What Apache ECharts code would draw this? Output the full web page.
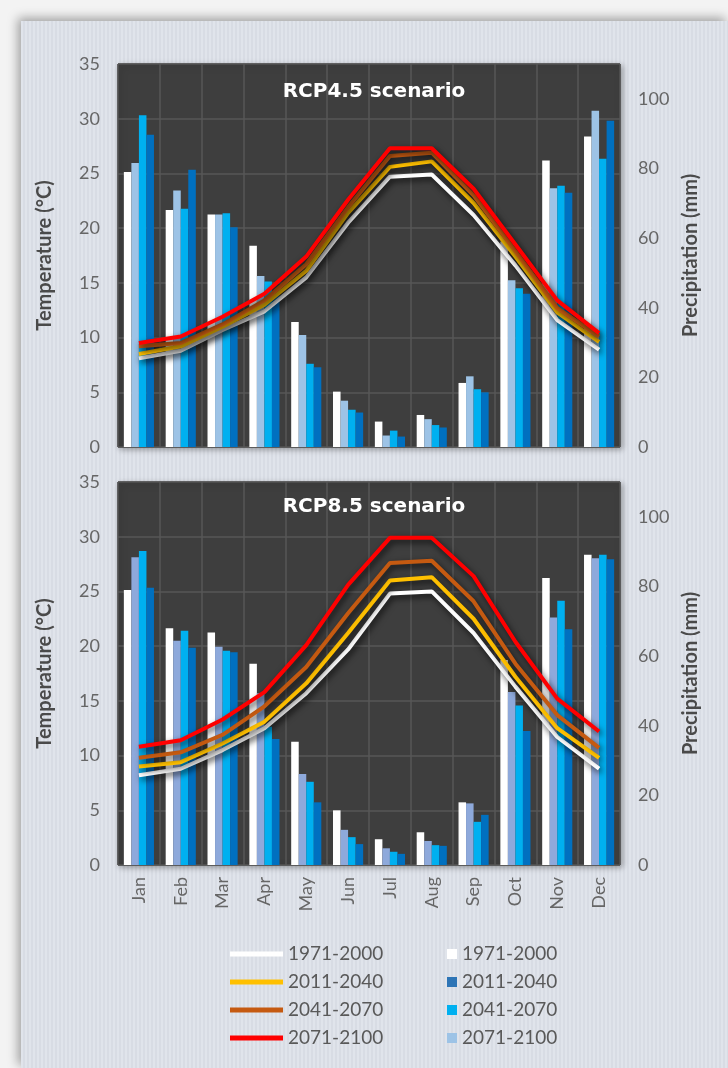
<!DOCTYPE html>
<html>
<head>
<meta charset="utf-8">
<script src="https://cdn.jsdelivr.net/npm/echarts@6/dist/echarts.min.js"></script>
<style>
  html, body { margin: 0; padding: 0; width: 728px; height: 1068px; overflow: hidden; background: #f3f3f3; }
  #panel { position: absolute; left: 21px; top: 21px; width: 707px; height: 1047px;
    background: repeating-linear-gradient(90deg, #e0e4eb 0px, #e0e4eb 2px, #d8dce4 2px, #d8dce4 4px);
    box-shadow: -3px -3px 10px rgba(0,0,0,0.35); }
  #chart { position: absolute; left: 0; top: 0; width: 728px; height: 1068px; }
</style>
</head>
<body>
<div id="panel"></div>
<div id="chart"></div>
<script>
// ---------- DATA ----------
const months = ['Jan','Feb','Mar','Apr','May','Jun','Jul','Aug','Sep','Oct','Nov','Dec'];
const periods = ['1971-2000','2011-2040','2041-2070','2071-2100'];
const tempTicks = [0, 35, 5];      // min, max, interval (°C)
const precipTicks = [0, 110, 20];  // min, max, interval (mm)

// Temperature (°C) - RCP4.5
const t45_1971 = [8.1, 8.8, 10.7, 12.4, 15.5, 20.5, 24.7, 24.9, 21.2, 16.6, 11.6, 8.9];
const t45_2011 = [8.5, 9.2, 11.0, 13.0, 16.1, 21.4, 25.6, 26.1, 22.3, 17.4, 12.3, 9.6];
const t45_2041 = [9.2, 9.5, 11.2, 13.4, 16.7, 21.9, 26.6, 26.9, 23.0, 17.9, 12.7, 10.1];
const t45_2071 = [9.5, 10.1, 11.9, 14.0, 17.4, 22.6, 27.3, 27.3, 23.6, 18.5, 13.4, 10.4];
// Precipitation (mm) - RCP4.5
const p45_1971 = [79.0, 68.1, 66.8, 57.8, 35.9, 15.9, 7.3, 9.2, 18.4, 59.0, 82.3, 89.2];
const p45_2011 = [89.7, 79.6, 63.1, 44.0, 22.9, 9.9, 3.0, 5.6, 15.7, 44.0, 73.0, 93.7];
const p45_2041 = [95.3, 68.4, 67.1, 47.5, 23.9, 10.7, 4.7, 6.3, 16.6, 45.6, 75.0, 82.8];
const p45_2071 = [81.6, 73.7, 66.8, 49.1, 32.2, 13.3, 3.3, 8.0, 20.3, 47.9, 74.3, 96.6];

// Temperature (°C) - RCP8.5
const t85_1971 = [8.2, 8.8, 10.5, 12.5, 15.7, 19.7, 24.8, 25.0, 21.2, 16.3, 11.7, 8.8];
const t85_2011 = [9.0, 9.4, 11.1, 13.1, 16.6, 21.2, 26.0, 26.3, 22.5, 17.2, 12.5, 9.8];
const t85_2041 = [9.8, 10.3, 11.9, 14.5, 18.1, 23.0, 27.6, 27.8, 24.1, 18.4, 13.7, 10.7];
const t85_2071 = [10.8, 11.4, 13.3, 15.8, 20.1, 25.6, 29.9, 29.9, 26.4, 20.4, 15.2, 12.2];
// Precipitation (mm) - RCP8.5
const p85_1971 = [79.0, 68.0, 66.8, 57.8, 35.4, 15.7, 7.4, 9.4, 18.0, 58.9, 82.4, 89.1];
const p85_2011 = [79.6, 62.4, 61.1, 36.2, 18.0, 6.0, 3.2, 5.5, 14.4, 38.5, 67.7, 87.8];
const p85_2041 = [90.2, 67.3, 61.5, 39.7, 23.9, 8.0, 3.8, 5.7, 12.4, 45.8, 75.9, 89.1];
const p85_2071 = [88.4, 64.4, 62.7, 49.3, 26.1, 10.1, 4.8, 6.9, 17.7, 49.7, 71.1, 88.1];

// ---------- STYLE ----------
const FONT = 'Lato, "Open Sans", sans-serif';
const TITLE_FONT = '"DejaVu Sans", Lato, sans-serif';
const lineColors = ['#FFFFFF', '#FFC000', '#C55A11', '#FF0000'];
const barColors45 = { '1971-2000': '#FFFFFF', '2011-2040': '#0070C0', '2041-2070': '#00B0F0', '2071-2100': '#9DC3E6' };
const barColors85 = { '1971-2000': '#FFFFFF', '2011-2040': '#0070C0', '2041-2070': '#00B0F0', '2071-2100': '#8EA9DB' };
const gridLine = '#575757';
const labelColor = '#666666';

const grids = [
  { left: 118, top: 64, width: 502, height: 383 },
  { left: 118, top: 482, width: 502, height: 383 }
].map(g => Object.assign(g, {
  show: true, backgroundColor: '#3E3E3E', borderColor: '#2c2c2c', borderWidth: 1,
  shadowBlur: 6, shadowColor: 'rgba(0,0,0,0.35)', shadowOffsetX: 2, shadowOffsetY: 2
}));

function xAxisFor(i, showLabels) {
  return {
    type: 'category', gridIndex: i, data: months, boundaryGap: true,
    axisLine: { show: false }, axisTick: { show: false },
    splitLine: { show: true, lineStyle: { color: gridLine, width: 1.5 } },
    axisLabel: { show: showLabels, rotate: 90, margin: 12, fontSize: 18, color: labelColor, fontFamily: FONT }
  };
}
function tempAxis(i) {
  return {
    type: 'value', gridIndex: i, position: 'left',
    min: tempTicks[0], max: tempTicks[1], interval: tempTicks[2],
    name: 'Temperature (°C)', nameLocation: 'middle', nameGap: 63, nameRotate: 90,
    nameTextStyle: { fontSize: 20, fontWeight: 'bold', color: '#4a4a4a', fontFamily: FONT },
    axisLine: { show: false }, axisTick: { show: false },
    axisLabel: { margin: 18, fontSize: 18, color: labelColor, fontFamily: FONT },
    splitLine: { show: true, lineStyle: { color: gridLine, width: 1.5 } }
  };
}
function precipAxis(i) {
  return {
    type: 'value', gridIndex: i, position: 'right',
    min: precipTicks[0], max: precipTicks[1], interval: precipTicks[2],
    name: 'Precipitation (mm)', nameLocation: 'middle', nameGap: 58, nameRotate: 90,
    nameTextStyle: { fontSize: 20, fontWeight: 'bold', color: '#4a4a4a', fontFamily: FONT },
    axisLine: { show: false }, axisTick: { show: false },
    axisLabel: { margin: 18, fontSize: 18, color: labelColor, fontFamily: FONT, showMaxLabel: false },
    splitLine: { show: false }
  };
}

function barSeries(gi, name, values, color) {
  return {
    type: 'bar', name: 'Precip ' + name, xAxisIndex: gi, yAxisIndex: gi * 2 + 1,
    data: values, barGap: '0%', barCategoryGap: '28%', z: 2,
    itemStyle: { color: color }
  };
}
function lineSeries(gi, name, values, color) {
  return {
    type: 'line', name: name, xAxisIndex: gi, yAxisIndex: gi * 2,
    data: values, showSymbol: false, symbol: 'none', z: 5, color: color,
    lineStyle: { color: color, width: 4, shadowColor: 'rgba(0,0,0,0.75)', shadowBlur: 6, shadowOffsetX: 2, shadowOffsetY: 3 },
    itemStyle: { color: color }
  };
}

const series = [];
const sets = [
  { p: [p45_1971, p45_2011, p45_2041, p45_2071], t: [t45_1971, t45_2011, t45_2041, t45_2071], c: barColors45 },
  { p: [p85_1971, p85_2011, p85_2041, p85_2071], t: [t85_1971, t85_2011, t85_2041, t85_2071], c: barColors85 }
];
sets.forEach((s, gi) => {
  // bar order within month: 1971-2000, 2071-2100, 2041-2070, 2011-2040
  [0, 3, 2, 1].forEach(k => series.push(barSeries(gi, periods[k], s.p[k], s.c[periods[k]])));
});
sets.forEach((s, gi) => {
  [0, 1, 2, 3].forEach(k => series.push(lineSeries(gi, periods[k], s.t[k], lineColors[k])));
});

const option = {
  backgroundColor: 'transparent',
  animation: false,
  title: [
    { text: 'RCP4.5 scenario', left: 374, top: 82, textAlign: 'center', padding: 0,
      textStyle: { color: '#fff', fontSize: 20, fontWeight: 'bold', fontFamily: TITLE_FONT } },
    { text: 'RCP8.5 scenario', left: 374, top: 497, textAlign: 'center', padding: 0,
      textStyle: { color: '#fff', fontSize: 20, fontWeight: 'bold', fontFamily: TITLE_FONT } }
  ],
  grid: grids,
  xAxis: [xAxisFor(0, false), xAxisFor(1, true)],
  yAxis: [tempAxis(0), precipAxis(0), tempAxis(1), precipAxis(1)],
  legend: [
    { orient: 'vertical', left: 230, top: 944, itemWidth: 53, itemHeight: 5, itemGap: 8,
      icon: 'rect', selectedMode: false, padding: 0,
      data: periods.map(n => ({ name: n })),
      textStyle: { fontSize: 19, color: '#595959', fontFamily: FONT, lineHeight: 20 } },
    { orient: 'vertical', left: 447, top: 944, itemWidth: 10, itemHeight: 10, itemGap: 8,
      icon: 'rect', selectedMode: false, padding: 0,
      data: [
        { name: 'Precip 1971-2000', itemStyle: { color: '#FFFFFF' } },
        { name: 'Precip 2011-2040', itemStyle: { color: '#2E75B6' } },
        { name: 'Precip 2041-2070', itemStyle: { color: '#00B0F0' } },
        { name: 'Precip 2071-2100', itemStyle: { color: '#9DC3E6' } }
      ],
      formatter: n => n.replace('Precip ', ''),
      textStyle: { fontSize: 19, color: '#595959', fontFamily: FONT, lineHeight: 20 } }
  ],
  series: series
};

const chart = echarts.init(document.getElementById('chart'), null, { renderer: 'canvas' });
chart.setOption(option);
</script>
</body>
</html>
